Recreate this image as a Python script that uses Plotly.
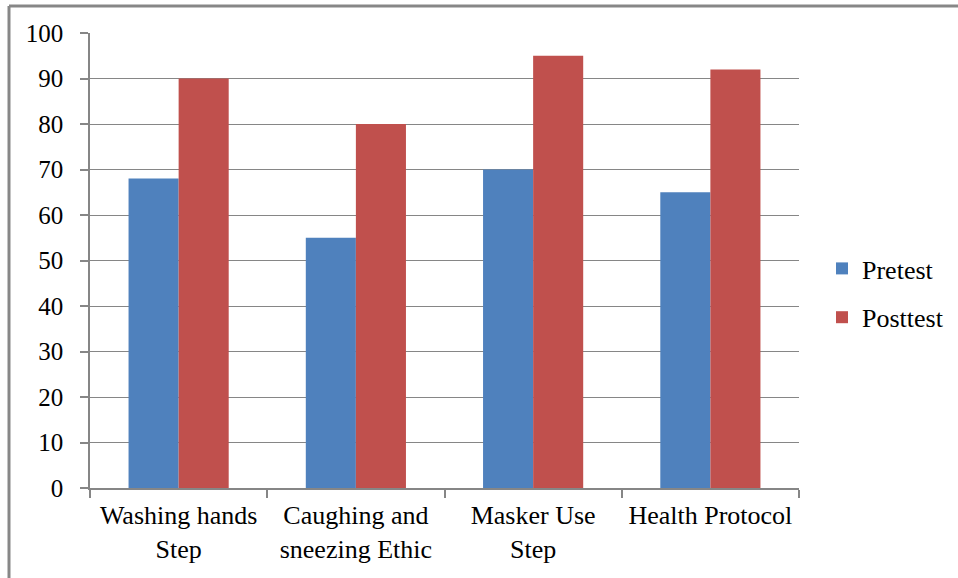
import plotly.graph_objects as go

categories = ["Washing hands<br>Step", "Caughing and<br>sneezing Ethic", "Masker Use<br>Step", "Health Protocol"]
pretest = [68, 55, 70, 65]
posttest = [90, 80, 95, 92]
y_ticks = list(range(0, 101, 10))

W, H = 958, 578
L, R, T, B = 90, 799, 33, 488
pw, ph = R - L, B - T

font = dict(family="Liberation Serif, Times New Roman, serif", size=25, color="#000000")
gray = "#868686"
frame_gray = "#878787"

fig = go.Figure()
fig.add_trace(go.Bar(x=categories, y=pretest, name="Pretest", marker_color="#4F81BD",
                     marker_line_width=0, legendgroup="a"))
fig.add_trace(go.Bar(x=categories, y=posttest, name="Posttest", marker_color="#C0504D",
                     marker_line_width=0, legendgroup="b"))

# outer chart frame: left and top edges (the rest runs off the page)
fx = (9 - L) / pw
fy = 1 + (T - 6) / ph
fig.add_shape(type="line", xref="paper", yref="paper", x0=fx, x1=fx, y0=-1, y1=fy,
              line=dict(color=frame_gray, width=3), layer="above")
fig.add_shape(type="line", xref="paper", yref="paper", x0=fx, x1=2, y0=fy, y1=fy,
              line=dict(color=frame_gray, width=3), layer="above")

fig.update_layout(
    width=W, height=H,
    margin=dict(l=L, r=W - R, t=T, b=H - B, pad=0, autoexpand=False),
    paper_bgcolor="white", plot_bgcolor="white",
    font=font,
    barmode="group", bargap=0.435, bargroupgap=0,
    showlegend=True,
    legend=dict(x=(822 - L) / pw, y=1 - (245 - T) / ph, xanchor="left", yanchor="top",
                font=dict(size=26), tracegroupgap=12, traceorder="grouped",
                bgcolor="rgba(0,0,0,0)", itemwidth=30),
    xaxis=dict(type="category", showline=True, linecolor=gray, linewidth=1.5,
               ticks="outside", tickson="boundaries", ticklen=8, tickcolor=gray,
               tickwidth=1.5, showgrid=False, tickfont=dict(size=26), ticklabelstandoff=3,
               tickangle=0, automargin=False),
    yaxis=dict(range=[0, 100], tickvals=y_ticks, showline=True, linecolor=gray, linewidth=1.5,
               ticks="outside", ticklen=8, tickcolor=gray, tickwidth=1.5,
               showgrid=True, gridcolor=gray, gridwidth=1, zeroline=False,
               tickfont=font, ticklabelstandoff=12, automargin=False),
)

fig.write_html("out.html")
